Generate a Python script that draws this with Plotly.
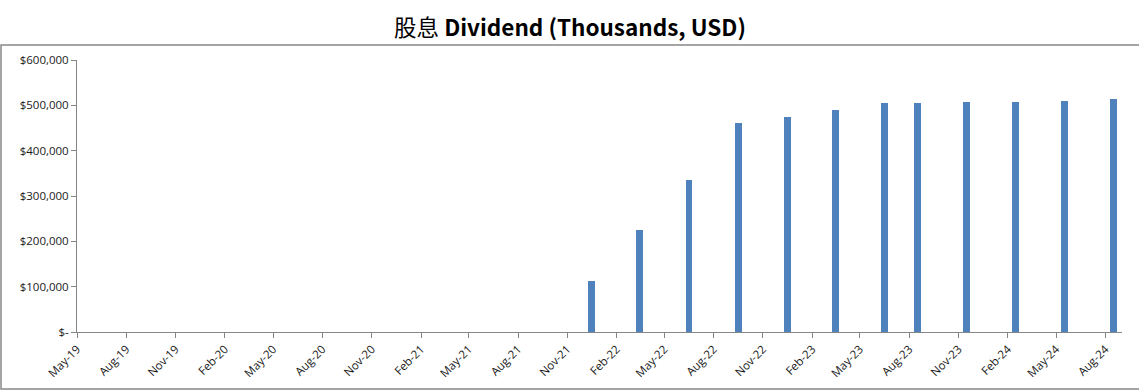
import plotly.graph_objects as go

# Data
months = ["2021-12-01", "2022-03-01", "2022-06-01", "2022-09-01", "2022-12-01",
          "2023-03-01", "2023-06-01", "2023-08-01", "2023-11-01", "2024-02-01",
          "2024-05-01", "2024-08-01"]
dividend = [113000, 225000, 336000, 461000, 475000, 490000, 505000, 505000,
            508000, 508000, 510000, 514000]
y_tickvals = [0, 100000, 200000, 300000, 400000, 500000, 600000]
y_ticktext = ["$-", "$100,000", "$200,000", "$300,000", "$400,000", "$500,000", "$600,000"]

W, H = 1139, 391
# page-pixel plot area: x 77..1122, y 60..332
L, T = 77, 60
pw, ph = 1122 - 77, 332 - 60
R = W - L - pw
B = H - T - ph

fig = go.Figure()
fig.add_trace(go.Bar(
    x=months, y=dividend,
    xperiod="M1", xperiodalignment="middle",
    width=13 * 86400000,
    marker=dict(color="#4F81BD", line=dict(width=0)),
))

axis_color = "#868686"
tick_font = dict(family="Open Sans, Liberation Sans, sans-serif", size=11.5, color="#1a1a1a")

bx0, bx1 = (1 - 77) / pw, (1200 - 77) / pw
by0, by1 = (332 - 389) / ph, (332 - 45) / ph

fig.update_layout(
    width=W, height=H,
    margin=dict(l=L, r=R, t=T, b=B),
    paper_bgcolor="white", plot_bgcolor="white",
    showlegend=False,
    title=dict(
        text="股息 <b>Dividend (Thousands, USD)</b>",
        x=570 / W, xanchor="center", y=1 - 28 / H, yanchor="middle", yref="container",
        font=dict(family="Noto Sans CJK SC, Open Sans, sans-serif", size=22.5, color="#000000"),
    ),
    xaxis=dict(
        type="date",
        range=["2019-05-01", "2024-09-01"],
        tick0="2019-05-01", dtick="M3", tickformat="%b-%y",
        tickangle=-45, ticks="outside", ticklen=5, tickcolor=axis_color,
        showline=True, linecolor=axis_color, linewidth=1,
        showgrid=False, zeroline=False, tickfont=tick_font,
    ),
    yaxis=dict(
        range=[0, 600000],
        tickvals=y_tickvals, ticktext=y_ticktext,
        ticks="outside", ticklen=5, tickcolor=axis_color,
        showline=True, linecolor=axis_color, linewidth=1,
        showgrid=False, zeroline=False, tickfont=tick_font,
    ),
    shapes=[dict(
        type="path", xref="paper", yref="paper",
        path=f"M {bx1},{by1} L {bx0},{by1} L {bx0},{by0} L {bx1},{by0}",
        line=dict(color="#888888", width=1.5), fillcolor="rgba(0,0,0,0)", layer="below",
    )],
    bargap=0,
)

fig.write_html("out.html", config={"displayModeBar": False},
               post_script="document.body.style.margin='0';")
